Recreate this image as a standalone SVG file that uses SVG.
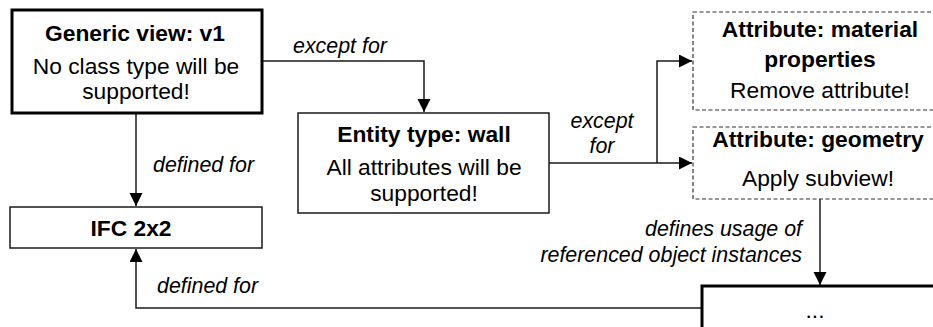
<svg xmlns="http://www.w3.org/2000/svg" width="933" height="327" viewBox="0 0 933 327">
<style>
text{font-family:"Liberation Sans",Arial,sans-serif;font-size:22.8px;fill:#000}
.b{font-weight:bold}
.c{text-anchor:middle}
.i{font-style:italic;font-size:21.4px}
.r{text-anchor:end}
.box{fill:#fff;stroke:#1a1a1a;stroke-width:1.5}
.thick{fill:#fff;stroke:#000;stroke-width:3}
.dash{fill:#fff;stroke:#333;stroke-width:1.2;stroke-dasharray:4 2.5}
.ln{fill:none;stroke:#1a1a1a;stroke-width:1.5}
</style>
<defs>
<marker id="ah" markerUnits="userSpaceOnUse" markerWidth="14" markerHeight="14" refX="13" refY="6.5" orient="auto">
<path d="M0,0 L13,6.5 L0,13 z" fill="#000"/>
</marker>
</defs>
<g id="connectors">
<path class="ln" d="M262,61 H424 V112" marker-end="url(#ah)"/>
<path class="ln" d="M136,113 V206" marker-end="url(#ah)"/>
<path class="ln" d="M549,163 H692" marker-end="url(#ah)"/>
<path class="ln" d="M657,163 V61 H692" marker-end="url(#ah)"/>
<path class="ln" d="M820,199 V285" marker-end="url(#ah)"/>
<path class="ln" d="M702,308 H136 V249" marker-end="url(#ah)"/>
<text class="i" x="293" y="53">except for</text>
<text class="i c" x="602" y="128">except</text>
<text class="i c" x="602" y="153">for</text>
<text class="i" x="153" y="172">defined for</text>
<text class="i" x="157" y="293">defined for</text>
<text class="i r" x="802" y="236">defines usage of</text>
<text class="i r" x="802" y="262">referenced object instances</text>
</g>
<g id="generic">
<rect class="thick" x="12" y="10" width="250" height="103"/>
<text class="b c" x="135" y="41">Generic view: v1</text>
<text class="c" x="136" y="74">No class type will be</text>
<text class="c" x="136" y="99">supported!</text>
</g>
<g id="ifc">
<rect class="box" x="10" y="207" width="252" height="41"/>
<text class="b c" x="131" y="236">IFC 2x2</text>
</g>
<g id="entity">
<rect class="box" x="298" y="113" width="251" height="100"/>
<text class="b c" x="424" y="142">Entity type: wall</text>
<text class="c" x="424" y="175">All attributes will be</text>
<text class="c" x="424" y="201">supported!</text>
</g>
<g id="attr-material">
<rect class="dash" x="693" y="12" width="250" height="98"/>
<text class="b c" x="820" y="37">Attribute: material</text>
<text class="b c" x="820" y="67">properties</text>
<text class="c" x="820" y="98">Remove attribute!</text>
</g>
<g id="attr-geometry">
<rect class="dash" x="693" y="127" width="250" height="72"/>
<text class="b c" x="818" y="147">Attribute: geometry</text>
<text class="c" x="818" y="186">Apply subview!</text>
</g>
<g id="more">
<rect class="thick" x="702" y="286" width="250" height="60"/>
<text class="c" x="815" y="318">...</text>
</g>
</svg>
